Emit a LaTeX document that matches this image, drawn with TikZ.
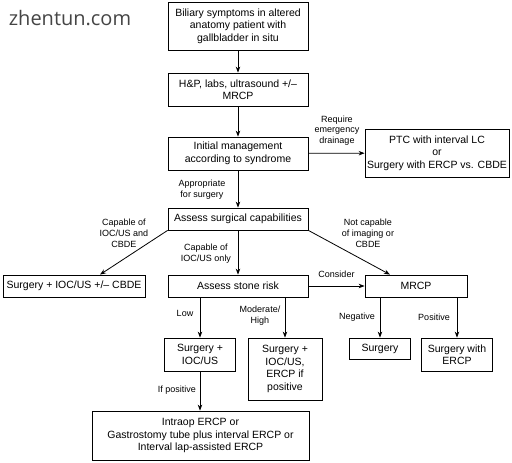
\documentclass[tikz,border=0pt]{standalone}
\usepackage{fontspec}
\setmainfont{Liberation Sans}
\newfontfamily\markfont{Open Sans}
\usetikzlibrary{arrows.meta}
\usetikzlibrary{positioning}
\tikzset{box/.style = {draw, line width=0.8pt, align=center, inner sep=0, font=\fontsize{10.5}{12.5}\selectfont}}
\tikzset{lbl/.style = {align=center, inner sep=0, font=\fontsize{9}{10.8}\selectfont}}
\tikzset{arr/.style = {line width=0.8pt, -{Stealth[length=6pt, width=4.5pt]}}}
\definecolor{mgray}{rgb}{0.27, 0.27, 0.27}

\begin{document}
\begin{tikzpicture}[x=1pt, y=-1pt]
    \useasboundingbox (0, 0) rectangle (512, 463);

    \node [text=mgray, inner sep=0, font=\markfont\fontsize{20}{20}\selectfont] (mark) at (70, 18) {zhentun.com};

    % main column
    \node [box, minimum width=140, minimum height=48] (symptoms) at (238, 26) {Biliary symptoms in altered\\anatomy patient with\\gallbladder in situ};
    \node [box, minimum width=140, minimum height=33] (workup) at (238, 89.5) {H\&P, labs, ultrasound +/--\\MRCP};
    \node [box, minimum width=140, minimum height=33] (initial) at (238, 153.5) {Initial management\\according to syndrome};
    \node [box, minimum width=144, minimum height=48] (ptc) at (437, 153) {PTC with interval LC\\or\\Surgery with ERCP vs. CBDE};
    \node [box, minimum width=140, minimum height=22] (capab) at (238, 219) {Assess surgical capabilities};

    % second row
    \node [box, minimum width=142, minimum height=22] (cbde) at (74, 286) {Surgery + IOC/US +/-- CBDE};
    \node [box, minimum width=140, minimum height=22] (stone) at (238, 286) {Assess stone risk};
    \node [box, minimum width=102, minimum height=22] (mrcp) at (416, 286) {MRCP};

    % third row
    \node [box, minimum width=71, minimum height=33] (iocus) at (200, 354.5) {Surgery +\\IOC/US};
    \node [box, minimum width=74, minimum height=62] (iocercp) at (285, 369) {Surgery +\\IOC/US,\\ERCP if\\positive};
    \node [box, minimum width=61, minimum height=21] (surgery) at (380, 348.5) {Surgery};
    \node [box, minimum width=71, minimum height=33] (ercp) at (457, 354.5) {Surgery with\\ERCP};
    \node [box, minimum width=217, minimum height=49] (intraop) at (200.5, 435.5) {Intraop ERCP or\\Gastrostomy tube plus interval ERCP or\\Interval lap-assisted ERCP};

    % connectors
    \draw [arr] (symptoms) -- (workup);
    \draw [arr] (workup) -- (initial);
    \draw [arr] (initial) -- (ptc);
    \draw [arr] (initial) -- (capab);
    \draw [arr] (capab.south west) -- ([xshift=26]cbde.north);
    \draw [arr] (capab) -- (stone);
    \draw [arr] (capab.south east) -- ([xshift=-26]mrcp.north);
    \draw [arr] (stone) -- (mrcp);
    \draw [arr] (stone.south -| iocus.north) -- (iocus);
    \draw [arr] (stone.south -| iocercp.north) -- (iocercp);
    \draw [arr] (mrcp.south -| surgery.north) -- (surgery);
    \draw [arr] (mrcp.south -| ercp.north) -- (ercp);
    \draw [arr] (iocus) -- (intraop.north -| iocus.south);

    % labels
    \node [lbl] (drain) at (337, 130.5) {Require\\emergency\\drainage};
    \node [lbl] (approp) at (202, 190) {Appropriate\\for surgery};
    \node [lbl] (both) at (124, 233) {Capable of\\IOC/US and\\CBDE};
    \node [lbl] (ioconly) at (206, 254) {Capable of\\IOC/US only};
    \node [lbl] (notcap) at (368, 233) {Not capable\\of imaging or\\CBDE};
    \node [lbl] (consider) at (336.5, 274) {Consider};
    \node [lbl] (low) at (185, 313) {Low};
    \node [lbl] (modhigh) at (260, 316) {Moderate/\\High};
    \node [lbl] (negative) at (357, 317) {Negative};
    \node [lbl] (positive) at (434, 317) {Positive};
    \node [lbl] (ifpos) at (177, 390) {If positive};
\end{tikzpicture}
\end{document}
